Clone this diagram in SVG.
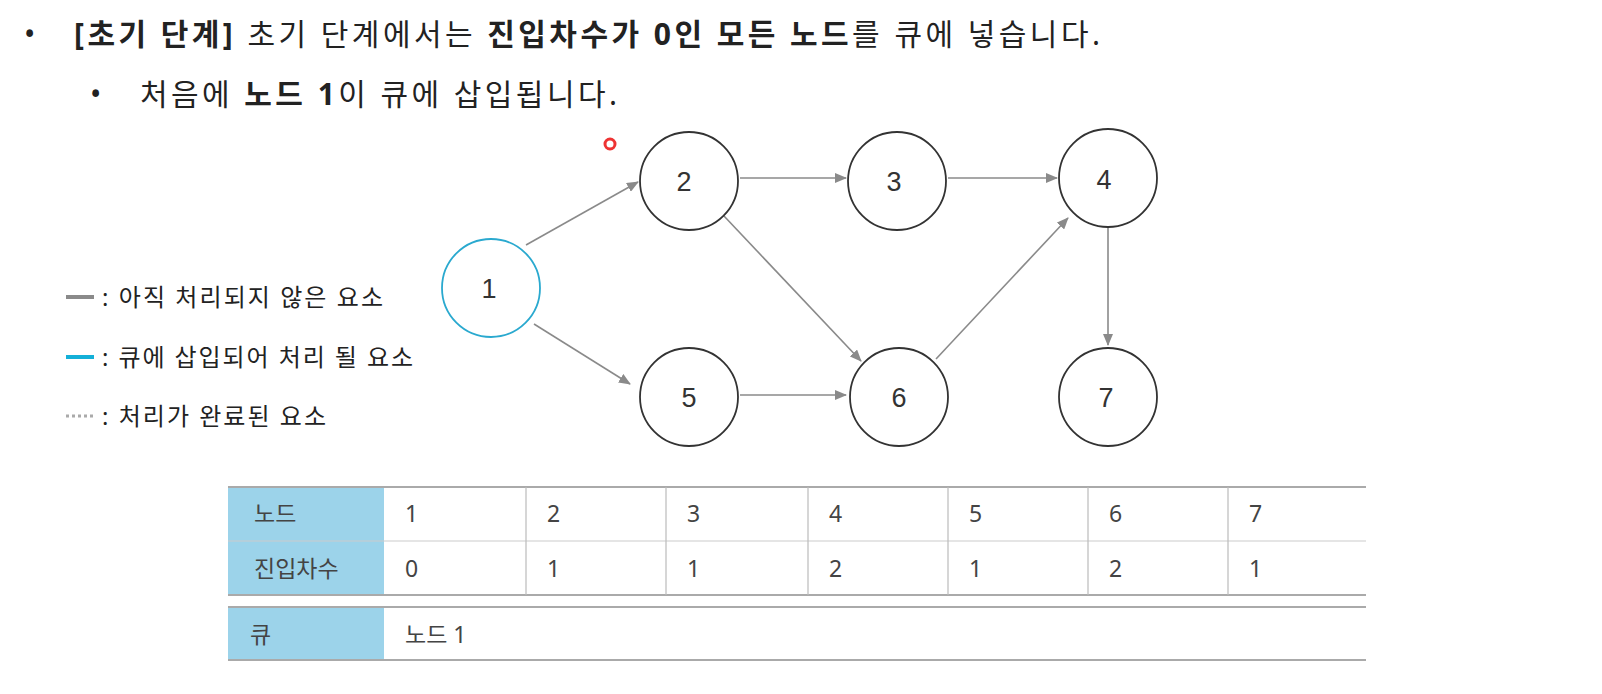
<svg xmlns="http://www.w3.org/2000/svg" width="1602" height="694" viewBox="0 0 1602 694">
<style>
text{font-family:"Noto Sans","Noto Sans CJK KR",sans-serif;fill:#222}
.t{font-size:30px}
.b{font-weight:bold}
.n circle{fill:#fff;stroke:#333;stroke-width:1.8}
.n text{font-family:"Liberation Sans","Noto Sans CJK KR",sans-serif;font-size:27px;fill:#333;text-anchor:middle}
.e line{stroke:#8a8a8a;stroke-width:1.6;marker-end:url(#ah)}
.lg{font-size:24px}
.h{fill:#9cd3ea}
.c{font-size:23px;fill:#444}
.g{stroke:#bbb;stroke-width:1.2}
.gb{stroke:#aaa;stroke-width:2}
</style>
<defs><marker id="ah" markerWidth="12" markerHeight="10" refX="11" refY="5" orient="auto" markerUnits="userSpaceOnUse"><path d="M0,0 L12,5 L0,10 z" fill="#8a8a8a"/></marker></defs>
<rect width="1602" height="694" fill="#fff"/>
<text class="t" x="24" y="45">•</text>
<text class="t" x="74" y="45" textLength="1026" lengthAdjust="spacing"><tspan class="b">[초기 단계]</tspan> 초기 단계에서는 <tspan class="b">진입차수가 0인 모든 노드</tspan>를 큐에 넣습니다.</text>
<text class="t" x="90" y="105">•</text>
<text class="t" x="140" y="105" textLength="477" lengthAdjust="spacing">처음에 <tspan class="b">노드 1</tspan>이 큐에 삽입됩니다.</text>
<circle cx="610" cy="144" r="5" fill="none" stroke="#e33" stroke-width="3"/>
<g id="connectors" class="e">
<line x1="526" y1="245" x2="638" y2="182"/>
<line x1="534" y1="324" x2="630" y2="384"/>
<line x1="740" y1="178" x2="846" y2="178"/>
<line x1="948" y1="178" x2="1057" y2="178"/>
<line x1="724" y1="216" x2="861" y2="361"/>
<line x1="740" y1="395" x2="846" y2="395"/>
<line x1="936" y1="359" x2="1068" y2="218"/>
<line x1="1108" y1="228" x2="1108" y2="345"/>
</g>
<g id="node1" class="n"><circle cx="491" cy="288" r="49" style="stroke:#2aa9cf"/><text x="489" y="298">1</text></g>
<g id="node2" class="n"><circle cx="689" cy="181" r="49"/><text x="684" y="191">2</text></g>
<g id="node3" class="n"><circle cx="897" cy="181" r="49"/><text x="894" y="191">3</text></g>
<g id="node4" class="n"><circle cx="1108" cy="178" r="49"/><text x="1104" y="189">4</text></g>
<g id="node5" class="n"><circle cx="689" cy="397" r="49"/><text x="689" y="407">5</text></g>
<g id="node6" class="n"><circle cx="899" cy="397" r="49"/><text x="899" y="407">6</text></g>
<g id="node7" class="n"><circle cx="1108" cy="397" r="49"/><text x="1106" y="407">7</text></g>
<g id="legend">
<line x1="66" y1="297" x2="94" y2="297" stroke="#8a8a8a" stroke-width="4"/>
<text class="lg" x="102" y="306" textLength="281" lengthAdjust="spacing">: 아직 처리되지 않은 요소</text>
<line x1="66" y1="357" x2="94" y2="357" stroke="#14b0d8" stroke-width="4"/>
<text class="lg" x="102" y="366" textLength="311" lengthAdjust="spacing">: 큐에 삽입되어 처리 될 요소</text>
<line x1="66" y1="416" x2="94" y2="416" stroke="#aaa" stroke-width="3" stroke-dasharray="3,3"/>
<text class="lg" x="102" y="425" textLength="224" lengthAdjust="spacing">: 처리가 완료된 요소</text>
</g>
<g id="table">
<rect class="h" x="228" y="487" width="156" height="108"/>
<line class="gb" x1="228" y1="487" x2="1366" y2="487"/>
<line class="g" x1="228" y1="541" x2="1366" y2="541" style="stroke:#ccc"/>
<line class="gb" x1="228" y1="595" x2="1366" y2="595"/>
<g class="g"><line x1="526" y1="487" x2="526" y2="595"/><line x1="666" y1="487" x2="666" y2="595"/><line x1="808" y1="487" x2="808" y2="595"/><line x1="948" y1="487" x2="948" y2="595"/><line x1="1088" y1="487" x2="1088" y2="595"/><line x1="1228" y1="487" x2="1228" y2="595"/></g>
<text class="c" x="254" y="522">노드</text>
<text class="c" x="254" y="577">진입차수</text>
<text class="c" x="405" y="522">1</text><text class="c" x="547" y="522">2</text><text class="c" x="687" y="522">3</text><text class="c" x="829" y="522">4</text><text class="c" x="969" y="522">5</text><text class="c" x="1109" y="522">6</text><text class="c" x="1249" y="522">7</text>
<text class="c" x="405" y="577">0</text><text class="c" x="547" y="577">1</text><text class="c" x="687" y="577">1</text><text class="c" x="829" y="577">2</text><text class="c" x="969" y="577">1</text><text class="c" x="1109" y="577">2</text><text class="c" x="1249" y="577">1</text>
</g>
<g id="queue">
<rect class="h" x="228" y="607" width="156" height="53"/>
<line class="gb" x1="228" y1="607" x2="1366" y2="607"/>
<line class="gb" x1="228" y1="660" x2="1366" y2="660"/>
<text class="c" x="250" y="643">큐</text>
<text class="c" x="405" y="643">노드 1</text>
</g>
</svg>
